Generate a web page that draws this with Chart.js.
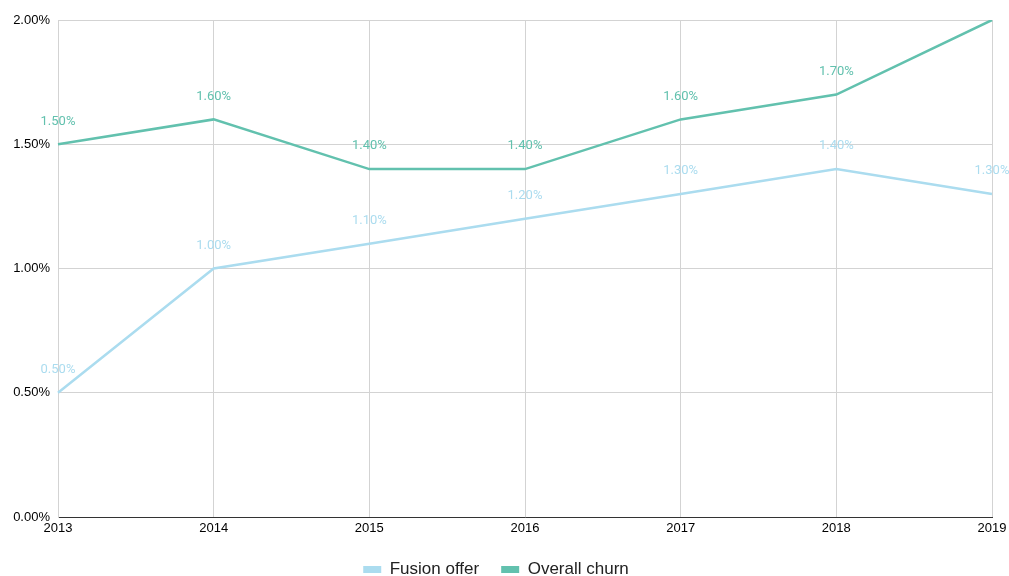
<!DOCTYPE html>
<html>
<head>
<meta charset="utf-8">
<script src="https://cdn.jsdelivr.net/npm/chart.js@4/dist/chart.umd.min.js"></script>
<style>
  html, body { margin: 0; padding: 0; background: #fff; }
  #wrap { width: 1009px; height: 576px; position: relative; }
</style>
</head>
<body>
<div id="wrap"><canvas id="churn-chart"></canvas></div>
<script>
const years = ['2013', '2014', '2015', '2016', '2017', '2018', '2019'];
const fusionOffer = [0.5, 1.0, 1.1, 1.2, 1.3, 1.4, 1.3];
const overallChurn = [1.5, 1.6, 1.4, 1.4, 1.6, 1.7, 2.0];

const fusionColor = '#abdcef';
const churnColor = '#62c1ae';

// value labels above every point
const pointLabels = {
    id: 'pointLabels',
    afterDatasetsDraw(chart) {
        const ctx = chart.ctx;
        ctx.save();
        ctx.font = '13px Roboto';
        ctx.textAlign = 'center';
        ctx.textBaseline = 'middle';
        chart.data.datasets.forEach((ds, i) => {
            const meta = chart.getDatasetMeta(i);
            meta.data.forEach((pt, j) => {
                const y = pt.y - 23;
                if (y < 8) return;
                ctx.fillStyle = ds.borderColor;
                ctx.fillText(ds.data[j].toFixed(2) + '%', pt.x, y);
            });
        });
        ctx.restore();
    }
};

new Chart(document.getElementById('churn-chart'), {
    type: 'line',
    data: {
        labels: years,
        datasets: [{
            label: 'Fusion offer',
            data: fusionOffer,
            borderColor: fusionColor,
            backgroundColor: fusionColor,
            borderWidth: 2.5,
            pointRadius: 0,
            tension: 0
        }, {
            label: 'Overall churn',
            data: overallChurn,
            borderColor: churnColor,
            backgroundColor: churnColor,
            borderWidth: 2.5,
            pointRadius: 0,
            tension: 0
        }]
    },
    options: {
        responsive: true,
        maintainAspectRatio: false,
        animation: false,
        layout: { padding: { top: 20, right: 17, left: 0, bottom: 0 } },
        scales: {
            x: {
                offset: false,
                grid: { color: '#d3d3d3', drawTicks: false },
                border: { color: '#333', width: 1 },
                ticks: { color: '#000', font: { family: 'Liberation Sans', size: 13 }, padding: 4, maxRotation: 0 },
                afterFit(scale) {
                    scale.height = 22;
                    scale.paddingRight = 0;
                }
            },
            y: {
                min: 0,
                max: 2,
                grid: { color: '#d3d3d3', drawTicks: false },
                border: { color: '#d3d3d3' },
                ticks: {
                    stepSize: 0.5,
                    color: '#000',
                    font: { family: 'Liberation Sans', size: 13 },
                    padding: 8,
                    callback: v => v.toFixed(2) + '%'
                },
                afterFit(scale) { scale.width = 58; }
            }
        },
        plugins: {
            tooltip: { enabled: false },
            legend: {
                position: 'bottom',
                maxHeight: 37,
                labels: {
                    color: '#222',
                    font: { family: 'Liberation Sans', size: 17 },
                    boxWidth: 18,
                    boxHeight: 7,
                    padding: 22,
                    generateLabels(chart) {
                        return Chart.defaults.plugins.legend.labels.generateLabels(chart)
                            .map(item => Object.assign(item, { lineWidth: 0 }));
                    }
                }
            }
        }
    },
    plugins: [pointLabels]
});
</script>
</body>
</html>
